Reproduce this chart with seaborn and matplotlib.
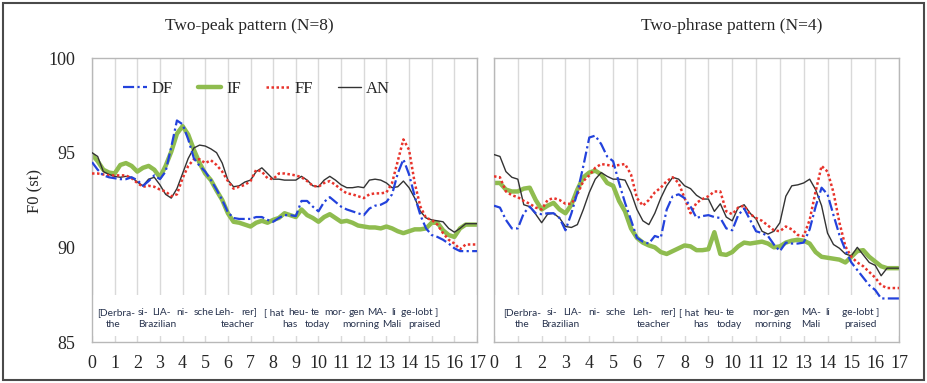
import numpy as np
import pandas as pd
import matplotlib
matplotlib.use("Agg")
import matplotlib.pyplot as plt
import seaborn as sns
from matplotlib.lines import Line2D
from matplotlib.patches import Rectangle

# ---------------- data (F0 in semitones, sampled every 0.25 normalised syllable) -------------
time = np.arange(0, 17.01, 0.25)
conditions = ["DF", "IF", "FF", "AN"]
panel_titles = ["Two-peak pattern (N=8)", "Two-phrase pattern (N=4)"]
x_ticks = list(range(0, 18))
y_ticks = [85, 90, 95, 100]

peak_DF = [94.5, 94.1, 93.8, 93.7, 93.65, 93.6, 93.6, 93.7, 93.55, 93.25, 93.5, 93.8,
           93.6, 94.0, 95.3, 96.7, 96.5, 95.7, 94.7, 94.3, 94.0, 93.55, 93.05, 92.5,
           91.85, 91.55, 91.5, 91.5, 91.5, 91.6, 91.6, 91.45, 91.35, 91.55, 91.7, 91.7,
           91.65, 92.45, 92.45, 92.15, 91.9, 92.4, 92.65, 92.4, 92.15, 92.0, 91.9, 91.8,
           91.7, 92.05, 92.2, 92.25, 92.4, 92.8, 93.9, 94.65, 93.85, 92.7, 91.7, 91.0,
           90.65, 90.55, 90.4, 90.2, 89.95, 89.8, 89.8, 89.8, 89.8]
peak_IF = [94.9, 94.55, 94.1, 93.95, 93.9, 94.35, 94.45, 94.3, 94.0, 94.2, 94.3, 94.1,
           93.7, 94.3, 95.05, 96.0, 96.4, 95.95, 95.15, 94.45, 93.9, 93.55, 93.0, 92.5,
           91.8, 91.35, 91.3, 91.2, 91.1, 91.3, 91.4, 91.3, 91.45, 91.55, 91.8, 91.7,
           91.6, 92.0, 91.7, 91.55, 91.35, 91.6, 91.75, 91.55, 91.35, 91.4, 91.3, 91.15,
           91.1, 91.05, 91.05, 91.0, 91.1, 91.0, 90.85, 90.75, 90.85, 90.95, 90.95, 91.0,
           91.3, 91.3, 90.9, 90.65, 90.55, 91.0, 91.2, 91.2, 91.2]
peak_FF = [93.9, 93.9, 93.85, 93.8, 93.8, 93.8, 93.8, 93.65, 93.4, 93.2, 93.25, 93.2,
           93.05, 92.95, 92.7, 92.8, 93.65, 94.3, 94.65, 94.65, 94.45, 94.6, 94.35, 94.0,
           93.5, 93.1, 93.2, 93.3, 93.5, 94.1, 94.0, 93.65, 93.6, 93.9, 93.9, 93.85,
           93.8, 93.7, 93.5, 93.25, 93.2, 93.4, 93.5, 93.3, 93.05, 92.85, 92.8, 92.7,
           92.6, 92.8, 92.85, 92.85, 92.9, 93.4, 94.55, 95.7, 95.15, 93.4, 92.15, 91.55,
           91.45, 91.2, 90.75, 90.4, 90.2, 89.9, 90.15, 90.15, 90.15]
peak_AN = [95.0, 94.8, 94.0, 93.85, 93.75, 93.7, 93.75, 93.7, 93.45, 93.25, 93.6, 93.7,
           93.3, 92.8, 92.6, 93.1, 93.9, 94.7, 95.25, 95.4, 95.35, 95.2, 95.0, 94.45,
           93.55, 93.2, 93.25, 93.45, 93.55, 94.0, 94.2, 93.9, 93.6, 93.6, 93.55, 93.55,
           93.55, 93.75, 93.55, 93.25, 93.2, 93.55, 93.75, 93.55, 93.3, 93.15, 93.15, 93.2,
           93.15, 93.55, 93.6, 93.55, 93.4, 93.15, 93.2, 93.5, 93.15, 92.6, 91.9, 91.55,
           91.45, 91.4, 91.35, 91.0, 90.8, 91.0, 91.25, 91.25, 91.25]

phrase_DF = [92.2, 92.1, 91.45, 91.0, 91.0, 91.8, 92.15, 91.8, 91.75, 91.8, 91.8, 91.55,
             90.9, 91.8, 92.9, 94.3, 95.8, 95.9, 95.45, 94.8, 94.55, 93.4, 92.35, 91.45,
             90.5, 90.3, 90.2, 90.6, 90.5, 92.0, 92.7, 92.8, 92.6, 92.15, 91.55, 91.65,
             91.7, 91.6, 91.55, 91.0, 90.9, 91.7, 92.05, 91.45, 90.85, 90.75, 90.6, 90.15,
             89.8, 90.25, 90.2, 90.2, 90.25, 90.95, 92.15, 93.15, 92.8, 91.7, 90.65, 89.85,
             89.2, 88.8, 88.4, 88.0, 87.75, 87.3, 87.3, 87.3, 87.3]
phrase_IF = [93.4, 93.4, 93.05, 92.95, 92.95, 93.1, 93.15, 92.5, 92.0, 92.2, 92.35, 92.0,
             91.8, 92.25, 93.05, 93.7, 93.95, 94.05, 93.85, 93.4, 93.25, 92.45, 91.9, 91.0,
             90.5, 90.25, 90.1, 90.0, 89.75, 89.65, 89.8, 89.95, 90.1, 90.05, 89.85, 89.85,
             89.9, 90.8, 89.65, 89.6, 89.75, 90.05, 90.25, 90.2, 90.25, 90.3, 90.2, 90.0,
             90.05, 90.25, 90.35, 90.4, 90.35, 90.2, 89.75, 89.5, 89.45, 89.4, 89.35, 89.2,
             89.5, 89.8, 89.85, 89.5, 89.25, 89.0, 88.9, 88.9, 88.9]
phrase_FF = [93.75, 93.7, 92.95, 92.75, 92.65, 92.45, 92.3, 92.1, 92.0, 92.5, 92.6, 92.5,
             92.3, 92.3, 92.8, 93.5, 93.8, 94.2, 94.4, 94.35, 94.3, 94.35, 94.4, 93.85,
             92.6, 92.2, 92.5, 92.9, 93.15, 93.5, 93.7, 93.4, 92.6, 91.8, 92.35, 92.55,
             92.7, 92.95, 92.95, 91.9, 91.75, 92.1, 92.2, 91.75, 91.55, 91.4, 91.15, 90.9,
             90.85, 91.1, 90.95, 90.65, 90.6, 91.45, 92.95, 94.3, 94.0, 92.9, 91.3, 90.05,
             89.5, 89.2, 89.0, 88.7, 88.4, 88.0, 87.85, 87.85, 87.85]
phrase_AN = [94.9, 94.8, 94.0, 93.7, 93.6, 92.25, 92.15, 91.75, 91.3, 91.75, 91.8, 91.55,
             91.1, 91.05, 91.2, 92.0, 92.9, 93.6, 93.95, 93.75, 93.6, 93.6, 93.55, 92.9,
             92.0, 91.4, 91.2, 91.8, 92.6, 93.25, 93.7, 93.6, 93.25, 93.1, 92.75, 92.55,
             92.55, 91.9, 92.3, 91.6, 91.4, 92.1, 92.25, 91.8, 91.5, 90.85, 90.7, 90.85,
             91.3, 92.7, 93.25, 93.3, 93.4, 93.6, 93.05, 92.2, 90.75, 90.15, 89.95, 89.65,
             89.55, 90.0, 89.6, 89.2, 89.05, 88.5, 88.9, 88.9, 88.9]

# syllable annotations (word, centre on the time axis)
left_row1 = [("[Derbra-", 1.05), ("si-", 2.25), ("LIA-", 3.05), ("ni-", 4.0), ("sche", 4.95),
             ("Leh-", 5.85), ("rer]", 6.95), ("[ hat", 8.05), ("heu-", 9.1), ("te", 9.85),
             ("mor-", 10.75), ("gen", 11.7), ("MA-", 12.6), ("li", 13.3), ("ge-lobt ]", 14.45)]
left_row2 = [("the", 0.95), ("Brazilian", 2.9), ("teacher", 6.45), ("has", 8.75),
             ("today", 9.95), ("morning", 11.85), ("Mali", 13.25), ("praised", 14.7)]
right_row1 = [("[Derbra-", 1.18), ("si-", 2.45), ("LIA-", 3.3), ("ni-", 4.2), ("sche", 5.1),
              ("Leh-", 6.2), ("rer]", 7.3), ("[ hat", 8.2), ("heu-", 9.2), ("te", 9.9),
              ("mor-", 11.3), ("gen", 12.1), ("MA-", 13.3), ("li", 14.0), ("ge-lobt ]", 15.4)]
right_row2 = [("the", 1.2), ("Brazilian", 2.8), ("teacher", 6.7), ("has", 8.7),
              ("today", 9.9), ("morning", 11.7), ("Mali", 13.3), ("praised", 15.4)]

panels = {
    panel_titles[0]: {"DF": peak_DF, "IF": peak_IF, "FF": peak_FF, "AN": peak_AN},
    panel_titles[1]: {"DF": phrase_DF, "IF": phrase_IF, "FF": phrase_FF, "AN": phrase_AN},
}
rows = []
for pname, d in panels.items():
    for cond in conditions:
        for t, v in zip(time, d[cond]):
            rows.append({"panel": pname, "condition": cond, "time": t, "F0": v})
df = pd.DataFrame(rows)

# ---------------- styling ----------------
sns.set_style("white")
plt.rcParams["font.family"] = ["Liberation Serif", "DejaVu Serif"]

styles = {
    "IF": dict(color="#8fbc4f", lw=3.2, ls="-", zorder=2),
    "AN": dict(color="#333333", lw=1.0, ls="-", zorder=3),
    "FF": dict(color="#e8332b", lw=1.8, ls=(0, (1, 1)), zorder=4),
    "DF": dict(color="#2342dc", lw=1.6, ls=(0, (5, 1.5, 1, 1.5)), zorder=5),
}
draw_order = ["IF", "AN", "FF", "DF"]
grid_col = "#d9d9d9"
spine_col = "#b8b8b8"
text_col = "#27324d"

W, H = 927, 383
fig = plt.figure(figsize=(W / 100, H / 100), dpi=100)
ax_l = fig.add_axes([92 / W, 41 / H, 385 / W, 284 / H])
ax_r = fig.add_axes([494 / W, 41 / H, 405 / W, 284 / H])

for ax, pname, r1, r2 in [(ax_l, panel_titles[0], left_row1, left_row2),
                          (ax_r, panel_titles[1], right_row1, right_row2)]:
    sub = df[df["panel"] == pname]
    for cond in draw_order:
        st = styles[cond]
        sns.lineplot(data=sub[sub["condition"] == cond], x="time", y="F0", ax=ax,
                     color=st["color"], linewidth=st["lw"], linestyle=st["ls"],
                     zorder=st["zorder"], legend=False, errorbar=None)
    ax.set_xlim(0, 17)
    ax.set_ylim(85, 100)
    ax.set_xticks(x_ticks)
    ax.set_yticks(y_ticks)
    ax.set_axisbelow(True)
    ax.grid(axis="x", color=grid_col, lw=1.0)
    ax.grid(axis="y", visible=False)
    ax.axhspan(85.3, 87.5, color="white", zorder=0.7, lw=0)
    for s in ax.spines.values():
        s.set_color(spine_col)
        s.set_linewidth(1.0)
    ax.tick_params(axis="both", direction="in", length=4, color=spine_col, width=1,
                   labelsize=13, pad=9)
    ax.set_xlabel("")
    ax.set_ylabel("")
    for w, xc in r1:
        ax.text(xc, 86.55, w, ha="center", va="center", fontsize=7.3,
                family=["Lato", "DejaVu Sans"], color=text_col, zorder=6)
    for w, xc in r2:
        ax.text(xc, 85.95, w, ha="center", va="center", fontsize=7.3,
                family=["Lato", "DejaVu Sans"], color=text_col, zorder=6)

ax_r.tick_params(axis="y", labelleft=False)
ax_l.tick_params(axis="y", pad=12)
ax_l.set_ylabel("F0 (st)", fontsize=12)
ax_l.yaxis.set_label_coords(-0.127, 0.53)

fig.text(249 / W, 1 - 26 / H, panel_titles[0], ha="center", va="center", fontsize=12.5)
fig.text(732 / W, 1 - 26 / H, panel_titles[1], ha="center", va="center", fontsize=12.5)

handles = [Line2D([], [], color=styles[c]["color"], lw=styles[c]["lw"], ls=styles[c]["ls"])
           for c in conditions]
ax_l.legend(handles, conditions, loc="center", bbox_to_anchor=(0.428, 0.89), ncol=4,
            frameon=False, fontsize=12, handlelength=1.4, handletextpad=0.3,
            columnspacing=1.5)

fig.patches.append(Rectangle((3 / W, 3 / H), 1 - 6 / W, 1 - 6 / H, transform=fig.transFigure,
                             fill=False, edgecolor="#4a4a4a", lw=1.5))

fig.savefig("out.png", dpi=100)
